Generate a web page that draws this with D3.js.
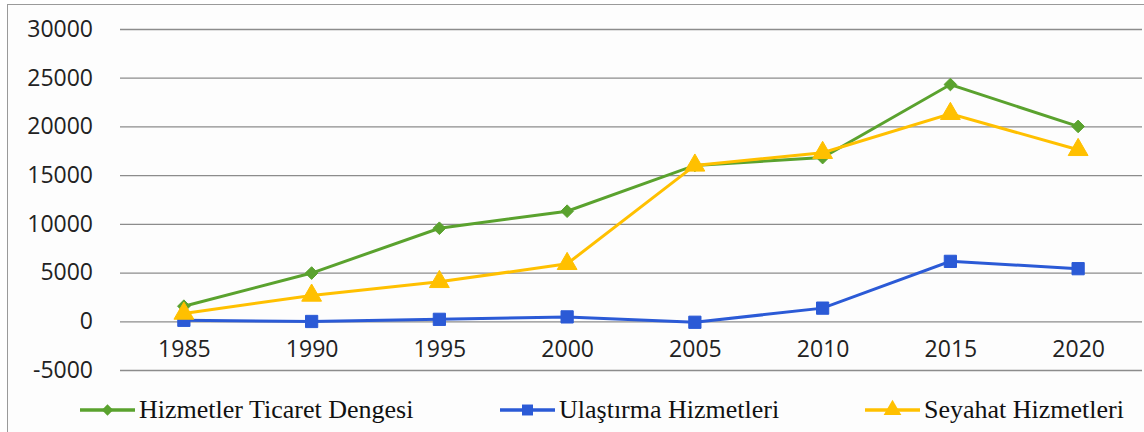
<!DOCTYPE html>
<html>
<head>
<meta charset="utf-8">
<script src="https://cdn.jsdelivr.net/npm/d3@7"></script>
<style>
  body { margin: 0; background: #fff; }
  svg { display: block; }
</style>
</head>
<body>
<svg id="svg" width="1144" height="432"></svg>
<script>
var years = ['1985', '1990', '1995', '2000', '2005', '2010', '2015', '2020'];
var ticaretDengesi = [1550, 4950, 9550, 11300, 16000, 16800, 24300, 20000];
var ulastirma = [100, -20, 200, 450, -100, 1350, 6150, 5400];
var seyahat = [800, 2650, 4050, 5900, 16000, 17300, 21300, 17600];
var yTicks = [-5000, 0, 5000, 10000, 15000, 20000, 25000, 30000];

var seriesNames = ['Hizmetler Ticaret Dengesi', 'Ulaştırma Hizmetleri', 'Seyahat Hizmetleri'];
var seriesColors = ['#5aa22e', '#2b5ad6', '#ffc000'];

var svg = d3.select("#svg");

// çerçeve
svg.append("rect")
  .attr("x", 7.5).attr("y", 4.5)
  .attr("width", 1150).attr("height", 440)
  .attr("fill", "#fdfdfd")
  .attr("stroke", "#9a9a9a");

var padding = {top: 29, left: 120, right: 2};
var chartArea = {width: 1144 - padding.left - padding.right, height: 370 - padding.top};

var xScale = d3.scalePoint()
  .domain(years)
  .range([0, chartArea.width])
  .padding(0.5);

var yScale = d3.scaleLinear()
  .domain([-5000, 30000])
  .range([chartArea.height, 0]);

var g = svg.append("g")
  .attr("transform", "translate(" + padding.left + "," + padding.top + ")");

// grid
g.append("g")
  .attr("class", "grid")
  .call(d3.axisLeft(yScale).tickValues(yTicks).tickSize(-chartArea.width).tickFormat(""))
  .call(function (s) {
    s.select(".domain").remove();
    s.selectAll("line").attr("stroke", "#8c8c8c").attr("stroke-width", 1.3);
  });

// y axis labels
g.append("g")
  .call(d3.axisLeft(yScale).tickValues(yTicks).tickSize(0).tickPadding(27)
    .tickFormat(function (d) { return String(d); }))
  .call(function (s) {
    s.select(".domain").remove();
    s.selectAll("text")
      .attr("font-family", "'Open Sans', sans-serif")
      .attr("font-size", 23)
      .attr("fill", "#222");
  });

// x axis labels
g.append("g")
  .attr("transform", "translate(0," + (yScale(0) + 19) + ")")
  .call(d3.axisBottom(xScale).tickSize(0).tickPadding(0))
  .call(function (s) {
    s.select(".domain").remove();
    s.selectAll("text")
      .attr("font-family", "'Open Sans', sans-serif")
      .attr("font-size", 23)
      .attr("fill", "#222");
  });

var diamond = {
  draw: function (ctx, size) {
    var r = Math.sqrt(size / 2);
    ctx.moveTo(0, -r); ctx.lineTo(r, 0); ctx.lineTo(0, r); ctx.lineTo(-r, 0); ctx.closePath();
  }
};

var allSeries = [ticaretDengesi, ulastirma, seyahat];
var symbols = [diamond, d3.symbolSquare, d3.symbolTriangle];
var symSizes = [80, 150, 170];

var line = d3.line()
  .x(function (d, i) { return xScale(years[i]); })
  .y(function (d) { return yScale(d); });

allSeries.forEach(function (vals, k) {
  g.append("path")
    .datum(vals)
    .attr("fill", "none")
    .attr("stroke", seriesColors[k])
    .attr("stroke-width", 3)
    .attr("d", line);

  g.selectAll(".m" + k).data(vals).enter()
    .append("path")
    .attr("class", "m" + k)
    .attr("transform", function (d, i) {
      return "translate(" + xScale(years[i]) + "," + yScale(d) + ")";
    })
    .attr("d", d3.symbol().type(symbols[k]).size(symSizes[k]))
    .attr("fill", seriesColors[k])
    .attr("stroke", seriesColors[k])
    .attr("stroke-width", 1);
});

// legend
var legendX = [80, 500, 865];
var legend = svg.append("g").attr("transform", "translate(0,410)");
seriesNames.forEach(function (name, k) {
  var lg = legend.append("g").attr("transform", "translate(" + legendX[k] + ",0)");
  lg.append("line")
    .attr("x1", 0).attr("x2", 55)
    .attr("stroke", seriesColors[k]).attr("stroke-width", 3.5);
  lg.append("path")
    .attr("transform", "translate(27.5,0)")
    .attr("d", d3.symbol().type(symbols[k]).size(symSizes[k] * 0.8))
    .attr("fill", seriesColors[k]);
  lg.append("text")
    .attr("x", 59).attr("y", 8)
    .attr("font-family", "'Liberation Serif', 'Times New Roman', serif")
    .attr("font-size", 26)
    .attr("fill", "#111")
    .text(name);
});
</script>
</body>
</html>
